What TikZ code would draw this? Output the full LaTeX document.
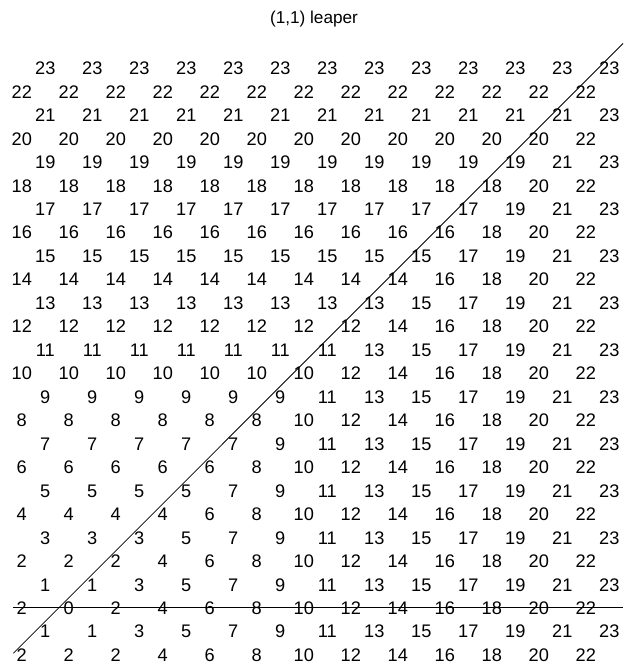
\documentclass[tikz,border=0pt]{standalone}
\usepackage{fontspec}
\setmainfont{Liberation Sans}
\begin{document}
\begin{tikzpicture}[x=1pt,y=1pt,
  num/.style={inner sep=0pt,anchor=base,font=\fontsize{18.2}{20}\selectfont},
  ttl/.style={inner sep=0pt,font=\fontsize{17.2}{19}\selectfont},
  ln/.style={line width=0.8pt}]
\useasboundingbox (0,0) rectangle (626,667);
\node[ttl] (title) at (314,648) {(1,1) leaper};
\foreach \r in {-2,...,23}{
  \pgfmathtruncatemacro{\rpar}{mod(\r+100,2)}
  \ifnum\rpar=0
    \def\alist{-2,0,...,22}
  \else
    \def\alist{-1,1,...,23}
  \fi
  \foreach \a in \alist{
    \pgfmathtruncatemacro{\v}{max(abs(\a),abs(\r))}
    \node[num] (n\a r\r) at ({68.8+23.5*\a},{59-6.5+23.47*\r}) {\v};
  }
}
\coordinate (hl) at (13,59.5);
\coordinate (hr) at (623,59.5);
\coordinate (dl) at (13.3,13.7);
\coordinate (dr) at (623,623.5);
\draw[ln] (hl) -- (hr);
\draw[ln] (dl) -- (dr);
\end{tikzpicture}
\end{document}
